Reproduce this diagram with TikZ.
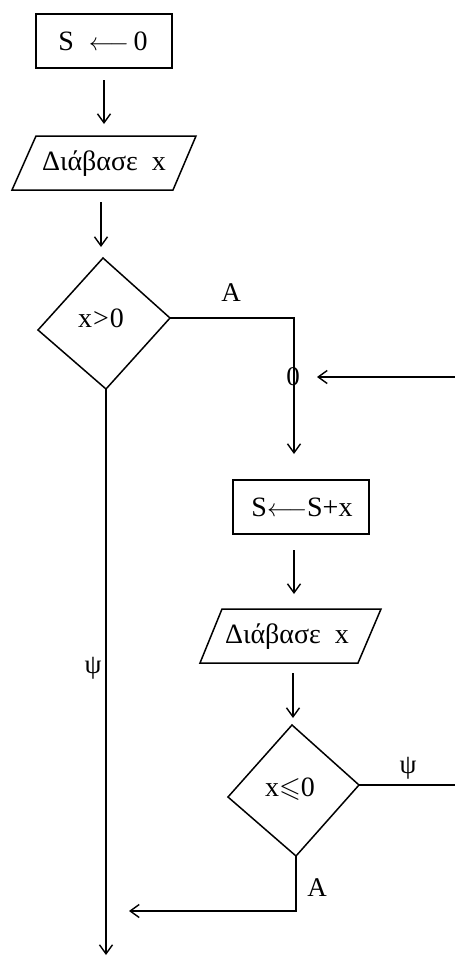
\documentclass[tikz,border=0pt]{standalone}
\usepackage{amssymb}
\usepackage{fontspec}
\setmainfont{Liberation Serif}
\usetikzlibrary{arrows.meta}
\begin{document}
\begin{tikzpicture}[x=1pt,y=-1pt,
  shp/.style={line width=1.5pt, line join=miter},
  con/.style={line width=1.5pt},
  arr/.style={con, -{Straight Barb[length=9pt,width=13pt,line width=1.4pt]}},
  txt/.style={inner sep=0pt, font=\fontsize{28}{32}\selectfont},
  lbl/.style={inner sep=0pt, font=\fontsize{27}{30}\selectfont}]
\useasboundingbox (0,0) rectangle (455,956);
% box 1
\node[draw, shp, minimum width=136pt, minimum height=54pt, inner sep=0pt] (b1) at (104,41) {};
\node[txt] (t1) at (103,41) {S\; $\longleftarrow$\,0};
% parallelogram 1
\coordinate (p1a) at (36,136); \coordinate (p1b) at (196,136);
\coordinate (p1c) at (173,190); \coordinate (p1d) at (12,190);
\draw[shp] (p1a) -- (p1b) -- (p1c) -- (p1d) -- cycle;
\node[txt] (t2) at (104,164) {Διάβασε\ \ x};
% diamond 1
\coordinate (d1t) at (103,258); \coordinate (d1r) at (170,318);
\coordinate (d1b) at (106,389); \coordinate (d1l) at (38,330);
\draw[shp] (d1t) -- (d1r) -- (d1b) -- (d1l) -- cycle;
\node[txt] (t3) at (101,318) {x\kern1pt>\kern1pt0};
% box 2
\node[draw, shp, minimum width=136pt, minimum height=54pt, inner sep=0pt] (b2) at (301,507) {};
\node[txt] (t4) at (302,507) {S$\longleftarrow$S+x};
% parallelogram 2
\coordinate (p2a) at (222,609); \coordinate (p2b) at (381,609);
\coordinate (p2c) at (358,663); \coordinate (p2d) at (200,663);
\draw[shp] (p2a) -- (p2b) -- (p2c) -- (p2d) -- cycle;
\node[txt] (t5) at (287,637) {Διάβασε\ \ x};
% diamond 2
\coordinate (d2t) at (292,725); \coordinate (d2r) at (359,785);
\coordinate (d2b) at (296,856); \coordinate (d2l) at (228,797);
\draw[shp] (d2t) -- (d2r) -- (d2b) -- (d2l) -- cycle;
\node[txt] (t6) at (290,789) {x$\leqslant$0};
% connectors
\coordinate (a1s) at (104,80); \coordinate (a1e) at (104,124);
\draw[arr] (a1s) -- (a1e);
\coordinate (a2s) at (101,202); \coordinate (a2e) at (101,247);
\draw[arr] (a2s) -- (a2e);
\coordinate (c1) at (294,318); \coordinate (a3e) at (294,454);
\draw[arr] (d1r) -- (c1) -- (a3e);
\node[lbl] (lA1) at (231,293) {A};
\node[lbl] (l0) at (293,377) {0};
\coordinate (r1) at (456,377); \coordinate (r1e) at (317,377);
\draw[arr] (r1) -- (r1e);
\coordinate (a4s) at (294,550); \coordinate (a4e) at (294,594);
\draw[arr] (a4s) -- (a4e);
\coordinate (a5s) at (293,673); \coordinate (a5e) at (293,718);
\draw[arr] (a5s) -- (a5e);
\coordinate (r2) at (456,785);
\draw[con] (d2r) -- (r2);
\node[lbl] (lpsi2) at (408,768) {ψ};
\coordinate (c2) at (296,911); \coordinate (a6e) at (129,911);
\draw[arr] (d2b) -- (c2) -- (a6e);
\node[lbl] (lA2) at (317,888) {A};
\coordinate (a7e) at (106,955);
\draw[arr] (d1b) -- (a7e);
\node[lbl] (lpsi1) at (93,668) {ψ};
\end{tikzpicture}
\end{document}
